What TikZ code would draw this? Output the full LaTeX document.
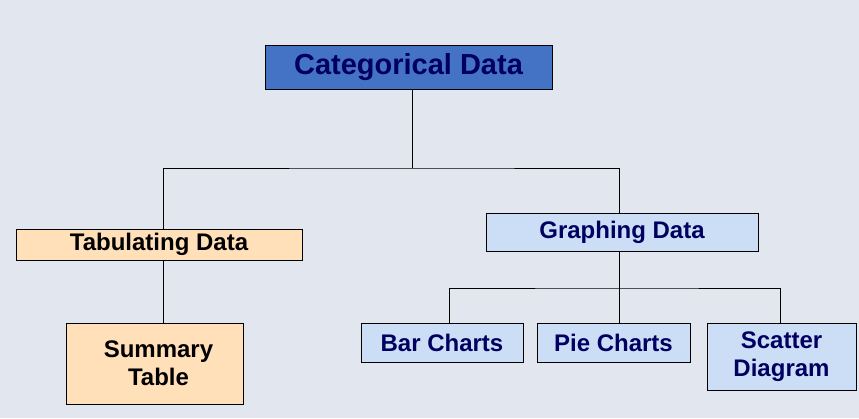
\documentclass[tikz,border=0pt]{standalone}
\usepackage{fontspec}
\setmainfont{Liberation Sans}
\definecolor{bgc}{RGB}{226,230,238}
\definecolor{navyc}{RGB}{0,0,96}
\definecolor{peachc}{RGB}{255,224,185}
\definecolor{lbluec}{RGB}{204,222,246}
\definecolor{bluec}{RGB}{68,114,196}
\begin{document}
\begin{tikzpicture}[x=1pt,y=-1pt,
  box/.style={draw=black,line width=0.6pt,inner sep=0pt,align=center,font=\bfseries\fontsize{24}{28}\selectfont},
  navy/.style={text=navyc},
  peach/.style={fill=peachc},
  lblue/.style={fill=lbluec},
  conn/.style={line width=0.9pt}]
\fill[bgc] (0,0) rectangle (859,418);
\useasboundingbox (0,0) rectangle (859,418);
\node[box,navy,fill=bluec,minimum width=287pt,minimum height=44pt,font=\bfseries\fontsize{29}{34}\selectfont] (cat) at (408.5,67) {Categorical Data};
\node[box,peach,minimum width=286pt,minimum height=31pt] (tab) at (159,244.5) {Tabulating Data};
\node[box,lblue,navy,minimum width=272pt,minimum height=38pt] (gra) at (622,232) {Graphing Data};
\node[box,peach,minimum width=177pt,minimum height=81pt] (sum) at (154.5,363.5) {\hspace*{8pt}Summary\\\hspace*{8pt}Table};
\node[box,lblue,navy,minimum width=162pt,minimum height=39pt] (bar) at (442,342.5) {Bar Charts};
\node[box,lblue,navy,minimum width=153pt,minimum height=39pt] (pie) at (613.5,342.5) {Pie Charts};
\node[box,lblue,navy,minimum width=149pt,minimum height=67pt] (sca) at (781.5,356.5) {Scatter\\Diagram};
\coordinate (j1) at (412,168);
\coordinate (j2) at (619,288);
\draw[conn] (cat.south -| j1) -- (j1);
\draw[conn] (tab.north -| 163,0) |- (j1) -| (gra.north -| 619,0);
\draw[conn] (tab.south -| 163,0) -- (sum.north -| 163,0);
\draw[conn] (gra.south -| j2) -- (j2);
\draw[conn] (bar.north -| 449,0) |- (j2) -| (sca.north -| 780,0);
\draw[conn] (j2) -- (pie.north -| j2);
\end{tikzpicture}
\end{document}
